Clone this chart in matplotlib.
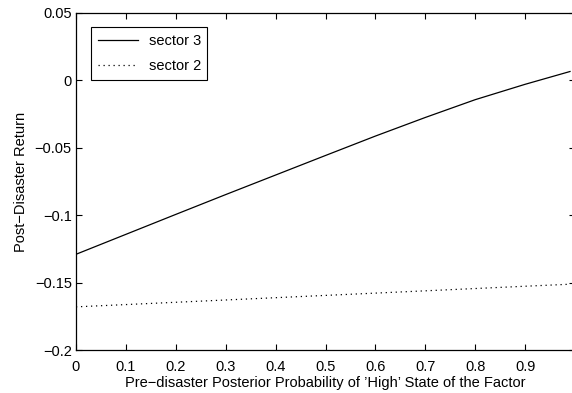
import numpy as np
import matplotlib
matplotlib.use('Agg')
import matplotlib.pyplot as plt

plt.rcParams['font.family'] = ['Liberation Sans', 'DejaVu Sans']
plt.rcParams['font.size'] = 10.5

# posterior probability of the high state (x) and post-disaster returns
prob = [0.0, 0.1, 0.2, 0.3, 0.4, 0.5, 0.6, 0.7, 0.8, 0.9, 0.99]
sector3 = [-0.129, -0.1142, -0.0994, -0.0847, -0.0702, -0.0557,
           -0.0413, -0.0275, -0.0143, -0.0029, 0.0066]
sector2 = [-0.168, -0.1663, -0.1646, -0.1629, -0.1612, -0.1595,
           -0.1578, -0.1561, -0.1544, -0.1527, -0.1512]

xticks = [0, 0.1, 0.2, 0.3, 0.4, 0.5, 0.6, 0.7, 0.8, 0.9]
yticks = [-0.2, -0.15, -0.1, -0.05, 0, 0.05]
ytick_labels = ['\u22120.2', '\u22120.15', '\u22120.1', '\u22120.05', '0', '0.05']

fig = plt.figure(figsize=(5.72, 3.93), dpi=100)
ax = fig.add_axes([76 / 572, 43 / 393, 499 / 572, 337 / 393])

ax.plot(prob, sector3, color='black', linewidth=0.9, label='sector 3')
ax.plot(prob, sector2, color='black', linewidth=0.9, linestyle=(0, (1, 3)),
        label='sector 2')

ax.set_xlim(0, 1)
ax.set_ylim(-0.2, 0.05)
ax.set_xticks(xticks)
ax.set_xticklabels([('%g' % t) for t in xticks])
ax.set_yticks(yticks)
ax.set_yticklabels(ytick_labels)
ax.tick_params(direction='in', length=4, width=0.8, top=True, right=True,
               labelsize=10.5)
ax.tick_params(axis='x', pad=7)
ax.tick_params(axis='y', pad=3)
for side in ax.spines.values():
    side.set_linewidth(0.9)

ax.set_xlabel("Pre\u2212disaster Posterior Probability of \u2019High\u2019 State of the Factor",
              fontsize=10.5, labelpad=2)
ax.set_ylabel('Post\u2212Disaster Return', fontsize=10.5, labelpad=5)

leg = ax.legend(loc='upper left', bbox_to_anchor=(0.03, 0.958), borderaxespad=0,
                fancybox=False, framealpha=1, edgecolor='black',
                handlelength=2.75, handletextpad=0.75, borderpad=0.45,
                labelspacing=0.8, fontsize=10.5)
leg.get_frame().set_linewidth(0.8)

fig.savefig('out.png', dpi=100)
